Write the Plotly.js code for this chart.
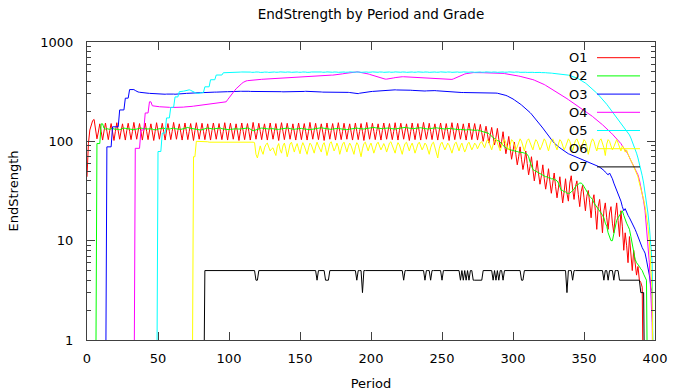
<!DOCTYPE html>
<html>
<head>
<meta charset="utf-8">
<script src="https://cdn.plot.ly/plotly-3.0.1.min.js"></script>
<style>html,body{margin:0;padding:0;background:#fff;}#chart{width:673px;height:391px;}</style>
</head>
<body>
<div id="chart"></div>
<script>
// ---- data (EndStrength by Period, one array per grade; first array element is at the start period) ----
const grades = ["O1", "O2", "O3", "O4", "O5", "O6", "O7"];
const xTickVals = [0, 50, 100, 150, 200, 250, 300, 350, 400];
const yTickVals = [1, 10, 100, 1000];
const yTickText = ["1", "10", "100", "1000"];

const o1Start = 0;
const o1 = [
44,95,130,150,162,166,132,106,124,150,
125,103,127,153,126,104,128,151,124,102,
126,154,127,105,127,150,124,103,128,152,
126,104,126,155,127,105,127,151,125,103,
128,153,126,104,127,150,124,102,126,154,
127,105,128,152,125,103,127,151,126,104,
126,155,127,105,128,150,124,103,127,153,
126,104,126,151,125,102,128,154,127,105,
127,152,126,104,126,150,124,103,128,153,
127,105,127,151,125,104,126,154,126,103,
128,152,127,105,127,150,124,102,126,153,
126,104,128,151,125,103,127,155,127,105,
126,152,126,104,128,150,124,103,127,153,
127,105,126,151,125,102,128,154,126,104,
127,152,127,105,126,150,124,103,128,153,
126,104,127,151,125,103,126,155,127,105,
128,152,126,104,127,150,124,102,126,153,
127,105,128,151,125,103,127,154,126,104,
126,152,127,105,128,150,124,103,127,153,
126,104,126,151,125,102,128,155,127,105,
127,152,126,104,126,150,124,103,128,153,
127,105,127,151,125,104,126,154,126,103,
128,152,127,105,127,150,124,102,126,153,
126,104,128,151,125,103,127,155,127,105,
126,152,126,104,128,150,124,103,127,153,
127,105,126,151,125,102,128,154,126,104,
127,152,127,105,126,150,124,103,128,153,
126,104,127,151,125,103,124,148,122,100,
120,142,118,96,116,138,112,92,110,135,
105,86,100,125,95,75,90,112,85,66,
80,98,74,58,70,88,66,52,62,80,
60,46,56,70,52,40,50,64,47,37,
45,58,42,33,41,53,39,30,38,48,
35,27,34,44,32,24,31,42,30,25,
38,45,33,26,35,40,29,22,31,36,
27,20,28,32,24,17,25,29,20,13,
22,26,18,12,20,24,17,13,19,22,
15,12,18,24,16,11,20,14,8,12,
9,6,11,7,5,8,6,4.5,5.5,4,
3.8,3.4,0.1
];

const o2Start = 0;
const o2 = [
0.1,0.1,0.1,0.1,0.1,0.1,0.1,95,95,95,
150,150,135,133,134,133,132,134,135,133,
133,134,132,131,133,135,136,135,134,133,
132,131,130,131,132,133,135,137,136,135,
134,133,132,133,134,134,133,131,130,131,
133,134,136,137,136,134,133,132,133,134,
135,136,134,133,132,131,132,133,134,135,
137,138,136,135,134,133,132,133,132,131,
130,131,133,134,135,136,135,134,133,133,
134,135,136,137,136,134,133,132,131,130,
131,132,133,134,135,134,133,132,133,134,
135,136,137,136,135,133,130,128,129,131,
133,134,135,136,135,134,133,132,133,134,
135,134,133,132,131,132,133,134,135,136,
137,136,135,134,133,132,132,133,134,135,
136,135,134,133,132,131,130,131,132,133,
134,135,136,137,138,137,136,135,134,133,
132,131,132,133,134,135,136,135,134,133,
132,131,130,131,132,133,134,135,136,137,
136,135,134,133,132,133,134,135,136,137,
138,139,138,137,136,135,134,133,134,135,
136,137,136,135,134,133,132,133,134,135,
136,137,138,139,138,137,136,135,134,133,
134,135,136,137,138,137,136,135,134,133,
133,134,135,136,137,138,137,136,135,134,
133,132,133,134,135,136,135,134,133,132,
131,130,131,132,131,130,129,130,131,132,
131,130,129,128,129,130,129,128,127,126,
125,124,122,120,116,112,108,105,103,102,
101,98,94,90,88,86,84,83,82,82,
81,80,80,79,78,78,77,77,76,76,
74,70,62,55,52,51,50,49,48,47,
46,46,45,44,44,43,43,42,42,41,
41,40,38,34,32,32,31,31,30,30,
30,31,32,33,35,36,37,38,38,37,
35,33,31,29,28,27,26,24,23,22,
21,20,19,18,17,15,14,12,11,10,
10,12,14,16,17,18,19,20,18,16,
15,14,13,11,9,7.5,6.5,6,5.8,5.5,
5.2,5,4.6,4.3,4,0.1
];

const o3Start = 10;
const o3 = [
0.1,0.1,0.1,0.1,88,88,88,88,140,140,
140,140,140,207,207,207,207,272,272,272,
332,332,332,332,325,318,314,312,310,309,
308,307,306,305,304,303,303,302,302,301,
300,300,299,299,298,298,299,300,300,301,
300,299,298,298,299,300,301,302,302,303,
304,305,305,306,306,307,307,308,308,308,
309,309,310,310,311,311,312,312,312,313,
313,313,314,314,314,315,315,315,316,316,
316,317,317,317,318,318,318,319,319,319,
320,320,320,319,319,318,318,318,317,317,
318,318,319,319,320,320,321,321,320,320,
319,319,318,318,317,317,316,316,315,315,
314,314,313,313,314,314,315,315,316,316,
317,317,318,318,319,319,318,318,317,317,
316,316,315,315,314,314,313,313,312,312,
313,313,314,314,315,315,316,316,315,315,
314,314,313,312,311,310,309,307,305,303,
300,302,305,307,309,311,313,314,315,316,
317,318,319,320,321,322,323,324,325,326,
327,328,329,330,331,331,330,330,329,329,
330,331,332,332,331,330,329,328,327,326,
325,324,323,322,321,321,320,320,321,322,
323,324,325,326,325,324,323,322,321,320,
319,318,317,316,315,314,314,313,313,312,
312,311,311,311,310,310,310,310,310,310,
310,310,311,311,311,310,310,310,309,309,
309,309,308,308,308,308,307,307,306,305,
303,301,299,296,293,290,286,282,277,272,
267,261,256,250,244,238,232,226,220,213,
207,201,195,188,181,174,167,160,153,147,
141,136,130,125,120,114,109,104,100,96,
93,90,88,86,84,82,80,78,76,75,
74,73,72,71,71,70,69,68,67,66,
65,64,63,62,61,60,60,59,58,57,
56,55,54,52,51,49,47,46,48,45,
42,38,35,32,30,28,25,22,20,21,
19,18,17,16,15,14,13,12,11,10,
9,8.5,8,7.5,6.4,5.5,4.5,3.5,3,0.1
];

const o4Start = 30;
const o4 = [
0.1,0.1,0.1,0.1,85,85,85,85,130,130,
130,193,193,193,250,250,228,226,225,224,
224,223,223,222,222,221,221,220,220,219,
219,218,218,218,219,219,220,220,221,222,
222,223,223,224,225,226,227,228,229,230,
231,232,233,234,235,236,237,238,239,240,
241,242,243,244,245,246,246,248,250,262,
275,288,300,312,325,338,350,362,372,382,
392,400,405,408,410,412,414,415,416,417,
418,419,420,421,422,423,424,425,426,427,
428,429,430,431,432,433,434,435,436,437,
438,439,440,441,442,443,444,444,445,445,
446,447,448,449,450,451,452,453,454,455,
456,457,458,459,460,460,461,461,462,462,
463,463,464,464,465,465,467,470,473,476,
478,481,484,487,490,492,494,496,497,498,
500,499,497,495,492,489,485,481,477,472,
467,462,457,452,447,442,437,432,428,425,
423,423,424,426,429,432,435,438,441,443,
444,446,447,447,446,445,444,443,442,441,
440,440,439,439,438,438,437,437,436,436,
435,434,433,432,431,430,429,428,427,426,
424,422,420,418,417,416,417,420,425,432,
440,447,454,460,466,471,476,480,484,487,
490,491,492,492,493,493,492,492,491,491,
490,490,490,490,489,489,488,488,488,487,
486,485,484,483,481,479,477,475,472,469,
466,463,460,457,454,451,448,445,441,438,
435,431,427,423,418,413,408,403,397,391,
385,379,373,366,359,352,345,338,330,322,
315,310,307,300,293,287,281,275,269,263,
257,252,247,242,238,233,228,223,218,212,
207,202,197,192,187,183,178,173,169,164,
160,155,151,147,143,139,134,130,126,122,
118,114,111,107,103,99,95,90,85,80,
78,74,70,64,60,56,54,50,46,41,
35,30,25,20,14,9.5,6,3,1.5,0.1
];

const o5Start = 40;
const o5 = [
0.1,0.1,0.1,0.1,0.1,0.1,0.1,0.1,0.1,0.1,
79,79,79,121,121,121,172,172,172,220,
220,220,280,280,280,316,316,318,320,322,
325,328,330,326,320,314,308,305,304,305,
306,308,310,354,354,354,354,417,417,417,
417,465,465,465,465,465,490,490,490,492,
494,495,496,497,496,495,496,497,498,499,
500,497,495,498,501,498,495,493,496,499,
501,498,494,492,495,498,500,497,494,496,
499,502,499,496,494,497,500,498,495,493,
496,499,501,498,495,497,500,502,499,496,
494,496,499,501,498,495,493,496,499,500,
497,494,496,499,502,499,496,494,497,500,
498,495,493,496,499,501,498,495,497,500,
502,499,496,494,497,500,498,495,493,496,
499,501,498,495,497,500,502,499,496,494,
497,500,498,495,493,496,499,501,498,495,
497,500,502,499,496,494,497,500,498,495,
493,496,499,501,498,495,497,500,502,499,
496,494,497,500,498,495,493,496,499,501,
498,495,497,500,502,499,496,494,497,500,
498,495,493,496,499,501,498,495,497,500,
502,499,496,494,497,500,498,495,493,496,
499,501,498,495,497,500,502,499,496,494,
497,500,498,495,493,496,499,501,498,495,
497,500,502,499,496,494,497,500,498,495,
493,496,499,501,498,495,497,500,498,496,
494,496,498,497,495,493,495,497,496,494,
492,494,493,491,489,490,488,486,484,482,
488,486,484,482,480,477,474,471,468,464,
460,456,451,446,440,434,427,420,412,404,
395,386,376,366,356,346,336,326,316,306,
296,286,276,266,256,246,236,226,216,206,
197,188,180,172,165,158,151,145,139,133,
128,122,116,108,100,92,84,76,68,60,
52,45,38,31,25,19,14,10,6,0.1
];

const o6Start = 70;
const o6 = [
0.1,0.1,0.1,0.1,0.1,70,70,100,100,100,
100,100,99,99,99,99,98,98,98,98,
98,98,98,98,98,98,98,98,98,98,
98,98,98,98,99,99,99,99,99,99,
99,99,99,99,99,99,99,98,97,74,
68,82,90,80,74,86,93,96,88,80,
84,86,78,72,88,95,82,76,90,96,
84,70,80,94,98,86,78,88,95,84,
75,88,97,90,80,74,86,96,92,82,
76,88,98,90,84,78,92,97,86,72,
82,95,99,90,80,86,96,88,74,84,
94,98,86,78,88,96,90,80,74,88,
97,92,82,70,84,95,98,88,80,90,
96,86,76,84,94,98,90,82,88,95,
88,78,86,96,99,90,82,76,88,97,
92,82,74,86,95,98,88,80,90,96,
86,76,84,94,98,90,82,88,96,92,
82,74,86,95,98,88,80,68,84,94,
98,90,82,88,96,92,82,76,86,95,
98,88,80,90,96,86,78,84,94,98,
90,82,88,96,92,84,90,97,99,92,
86,96,104,98,88,82,92,102,106,96,
86,80,90,100,105,96,86,82,94,104,
100,90,82,88,98,106,100,88,80,92,
102,106,96,86,82,94,104,100,90,82,
88,98,106,100,88,80,92,102,106,96,
86,82,94,104,100,90,82,88,98,106,
100,88,80,92,102,106,96,86,82,94,
104,100,90,74,88,98,106,100,88,80,
92,102,106,96,86,72,94,104,100,90,
82,88,98,104,96,86,80,90,86,78,
82,74,68,64,60,56,52,48,44,38,
34,30,26,22,18,14,10,6,3,0.1
];

const o7Start = 80;
const o7 = [
0.1,0.1,0.1,5,5,5,5,5,5,5,
5,5,5,5,5,5,5,5,5,5,
5,5,5,5,5,5,5,5,5,5,
5,5,5,5,5,5,5,5,5,4,
4,5,5,5,5,5,5,5,5,5,
5,5,5,5,5,5,5,5,5,5,
5,5,5,5,5,5,5,5,5,5,
5,5,5,5,5,5,5,5,5,5,
5,5,4,5,5,5,5,5,4,4,
4,5,5,5,5,5,5,5,5,5,
5,5,5,5,5,5,5,5,5,5,
4,5,5,5,3,5,5,5,5,5,
5,5,5,5,5,5,5,5,5,5,
5,5,5,5,5,5,5,5,5,5,
5,5,5,4,5,5,5,5,5,5,
5,5,5,5,5,5,5,5,4,5,
5,5,4,5,5,5,5,5,5,5,
4,5,5,5,5,5,5,5,5,5,
5,5,5,4,5,4,5,4,5,4,
5,5,4,4,4,4,4,4,4,5,
5,5,5,5,5,5,4,5,4,5,
4,5,5,4,5,5,5,5,5,5,
5,5,5,5,5,5,4,4,5,5,
5,5,5,5,5,5,5,5,5,5,
5,5,5,5,5,5,5,5,5,5,
5,5,5,5,5,5,5,5,3,5,
5,5,4,5,5,5,5,5,5,5,
5,5,5,5,5,5,5,5,5,5,
5,5,5,5,4,5,5,4,5,5,
5,4,5,5,5,4,4,4,4,4,
4,4,4,4,4,4,4,4,4,4,
3,3,3,0.1
];

// ---- styling ----
const seriesData = [o1, o2, o3, o4, o5, o6, o7];
const seriesStart = [o1Start, o2Start, o3Start, o4Start, o5Start, o6Start, o7Start];
const colors = ["#ff0000", "#00ff00", "#0000ff", "#ff00ff", "#00ffff", "#ffff00", "#000000"];
const FONT = "DejaVu Sans, sans-serif";
const W = 673, H = 391;
const M = {l: 87, r: 18, t: 42, b: 51};
const plotW = W - M.l - M.r, plotH = H - M.t - M.b;

const traces = seriesData.map((vals, k) => ({
  type: "scatter",
  mode: "lines",
  name: grades[k],
  x: vals.map((_, i) => seriesStart[k] + i),
  y: vals,
  line: {color: colors[k], width: 1},
  showlegend: false,
  hoverinfo: "skip"
}));

// minor ticks of the log axis (2..9 per decade)
const minorVals = [];
[1, 10, 100].forEach(d => { for (let m = 2; m <= 9; m++) minorVals.push(m * d); });

// gnuplot-style key: label right-justified, sample line to its right
const keyTextRight = 589.5, keyLineL = 597, keyLineR = 640, keyTop = 57.7, keyStep = 18.2;
const annotations = [], shapes = [];
grades.forEach((g, k) => {
  const py = keyTop + k * keyStep;
  const yp = (H - M.b - py) / plotH;
  annotations.push({
    xref: "paper", yref: "paper",
    x: (keyTextRight - M.l) / plotW, y: yp,
    xanchor: "right", yanchor: "middle",
    text: g, showarrow: false,
    font: {family: FONT, size: 13, color: "#000"}
  });
  shapes.push({
    type: "line", xref: "paper", yref: "paper",
    x0: (keyLineL - M.l) / plotW, x1: (keyLineR - M.l) / plotW,
    y0: yp, y1: yp,
    line: {color: colors[k], width: 1}
  });
});

const axisCommon = {
  showline: true, linecolor: "#404040", linewidth: 1, mirror: "allticks",
  ticks: "inside", ticklen: 8, tickwidth: 1, tickcolor: "#404040",
  showgrid: false, zeroline: false,
  tickfont: {family: FONT, size: 13, color: "#000"}
};

const layout = {
  width: W, height: H,
  margin: M,
  paper_bgcolor: "#fff", plot_bgcolor: "#fff",
  font: {family: FONT, size: 13, color: "#000"},
  title: {
    text: "EndStrength by Period and Grade",
    font: {family: FONT, size: 13.5, color: "#000"},
    x: 0.5, xref: "paper", xanchor: "center",
    y: 1 - 14 / H, yref: "container", yanchor: "middle"
  },
  xaxis: Object.assign({}, axisCommon, {
    range: [0, 400],
    tickmode: "array", tickvals: xTickVals,
    ticklabelstandoff: 6,
    title: {text: "Period", font: {family: FONT, size: 13, color: "#000"}, standoff: 15}
  }),
  yaxis: Object.assign({}, axisCommon, {
    type: "log", range: [0, 3],
    tickmode: "array", tickvals: yTickVals, ticktext: yTickText,
    ticklabelstandoff: 10,
    minor: {tickmode: "array", tickvals: minorVals, ticks: "inside", ticklen: 4, tickcolor: "#404040", showgrid: false},
    title: {text: "EndStrength", font: {family: FONT, size: 13, color: "#000"}, standoff: 18}
  }),
  annotations: annotations,
  shapes: shapes
};

Plotly.newPlot("chart", traces, layout, {staticPlot: true, displayModeBar: false});
</script>
</body>
</html>
